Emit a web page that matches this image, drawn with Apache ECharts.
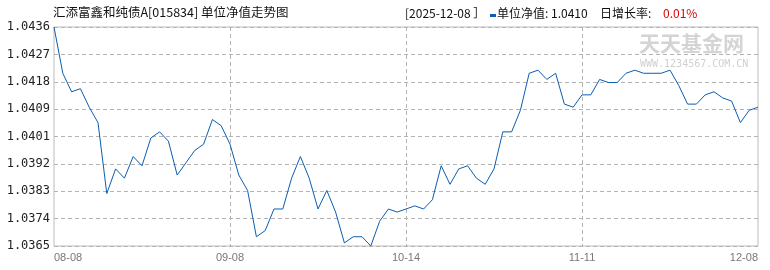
<!DOCTYPE html>
<html><head><meta charset="utf-8">
<script src="https://cdn.jsdelivr.net/npm/echarts@6/dist/echarts.min.js"></script>
<style>html,body{margin:0;padding:0;background:#fff}#c{width:770px;height:270px}</style>
</head><body><div id="c"></div>
<script>
const dates = ['2025-08-08','2025-08-11','2025-08-12','2025-08-13','2025-08-14','2025-08-15','2025-08-18','2025-08-19','2025-08-20','2025-08-21','2025-08-22','2025-08-25','2025-08-26','2025-08-27','2025-08-28','2025-08-29','2025-09-01','2025-09-02','2025-09-03','2025-09-04','2025-09-05','2025-09-08','2025-09-09','2025-09-10','2025-09-11','2025-09-12','2025-09-15','2025-09-16','2025-09-17','2025-09-18','2025-09-19','2025-09-22','2025-09-23','2025-09-24','2025-09-25','2025-09-26','2025-09-29','2025-09-30','2025-10-09','2025-10-10','2025-10-13','2025-10-14','2025-10-15','2025-10-16','2025-10-17','2025-10-20','2025-10-21','2025-10-22','2025-10-23','2025-10-24','2025-10-27','2025-10-28','2025-10-29','2025-10-30','2025-10-31','2025-11-03','2025-11-04','2025-11-05','2025-11-06','2025-11-07','2025-11-10','2025-11-11','2025-11-12','2025-11-13','2025-11-14','2025-11-17','2025-11-18','2025-11-19','2025-11-20','2025-11-21','2025-11-24','2025-11-25','2025-11-26','2025-11-27','2025-11-28','2025-12-01','2025-12-02','2025-12-03','2025-12-04','2025-12-05','2025-12-08'];
const navValues = [1.0436,1.0421,1.0415,1.0416,1.0410,1.0405,1.0382,1.0390,1.0387,1.0394,1.0391,1.0400,1.0402,1.0399,1.0388,1.0392,1.0396,1.0398,1.0406,1.0404,1.0398,1.0388,1.0383,1.0368,1.0370,1.0377,1.0377,1.0387,1.0394,1.0387,1.0377,1.0383,1.0376,1.0366,1.0368,1.0368,1.0365,1.0373,1.0377,1.0376,1.0377,1.0378,1.0377,1.0380,1.0391,1.0385,1.0390,1.0391,1.0387,1.0385,1.0390,1.0402,1.0402,1.0409,1.0421,1.0422,1.0419,1.0421,1.0411,1.0410,1.0414,1.0414,1.0419,1.0418,1.0418,1.0421,1.0422,1.0421,1.0421,1.0421,1.0422,1.0417,1.0411,1.0411,1.0414,1.0415,1.0413,1.0412,1.0405,1.0409,1.0410];
const yTicks = ['1.0365','1.0374','1.0383','1.0392','1.0401','1.0409','1.0418','1.0427','1.0436'];
const xTickLabels = ['08-08','09-08','10-14','11-11','12-08'];
const xTickIndex = [0,20,40,60,80];
const titleText = '汇添富鑫和纯债A[015834] 单位净值走势图';
const dateText = '[2025-12-08 ］';
const navText = '单位净值: 1.0410';
const growthLabel = '日增长率:';
const growthText = '0.01%';

const yMin = 1.0365, yMax = 1.0436, yStep = (yMax - yMin) / 8;
const chart = echarts.init(document.getElementById('c'), null, {renderer: 'canvas'});
const lineColor = '#0b5db0';
chart.setOption({
  animation: false,
  grid: {left: 54, right: 12, top: 27, bottom: 24, show: true, borderColor: '#bcbcbc', borderWidth: 1, backgroundColor: 'transparent'},
  xAxis: {
    type: 'category', data: dates, boundaryGap: false,
    axisLine: {show: false}, axisTick: {show: false},
    axisLabel: {
      interval: (i) => xTickIndex.indexOf(i) >= 0,
      formatter: (v, i) => { const k = xTickIndex.indexOf(i); return k >= 0 ? xTickLabels[k] : ''; },
      color: '#777', fontSize: 11, fontFamily: 'Liberation Sans', margin: 6,
      alignMinLabel: 'left', alignMaxLabel: 'right'
    },
    splitLine: {show: true, interval: (i) => i === 20 || i === 40 || i === 60,
      lineStyle: {color: '#b4b4b4', type: [4, 3], width: 1}}
  },
  yAxis: {
    type: 'value', min: yMin, max: yMax, interval: yStep,
    axisLine: {show: false}, axisTick: {show: false},
    axisLabel: {
      formatter: (v) => yTicks[Math.round((v - yMin) / yStep)] || '',
      color: '#222', fontSize: 12, fontFamily: 'DejaVu Sans Mono', margin: 4
    },
    splitLine: {show: true, lineStyle: {color: '#b4b4b4', type: [4, 3], width: 1}}
  },
  series: [{
    type: 'line', data: navValues, showSymbol: false, symbol: 'none',
    lineStyle: {color: lineColor, width: 1}, silent: true
  }],
  graphic: [
    {type: 'text', left: 53, top: 6, style: {text: titleText, font: '12.5px "Noto Sans CJK SC"', fill: '#111'}},
    {type: 'text', left: 405, top: 7, style: {text: dateText, font: '12px "Noto Sans CJK SC"', fill: '#111'}},
    {type: 'rect', shape: {x: 490, y: 14, width: 6, height: 3}, style: {fill: lineColor}},
    {type: 'text', left: 497, top: 7, style: {text: navText, font: '12px "Noto Sans CJK SC"', fill: '#111'}},
    {type: 'text', left: 600, top: 7, style: {text: growthLabel, font: '12px "Noto Sans CJK SC"', fill: '#111'}},
    {type: 'text', left: 663, top: 7, style: {text: growthText, font: '12px "Noto Sans CJK SC"', fill: '#e00000'}},
    {type: 'text', left: 639, top: 33, style: {text: '天天基金网', font: 'bold 21px "Noto Sans CJK SC"', fill: '#d4d4d4'}, z: 0},
    {type: 'text', left: 640, top: 59, style: {text: 'WWW.1234567.COM.CN', font: '10px "DejaVu Sans Mono"', fill: '#d0d0d0'}, z: 0}
  ]
});
</script></body></html>
